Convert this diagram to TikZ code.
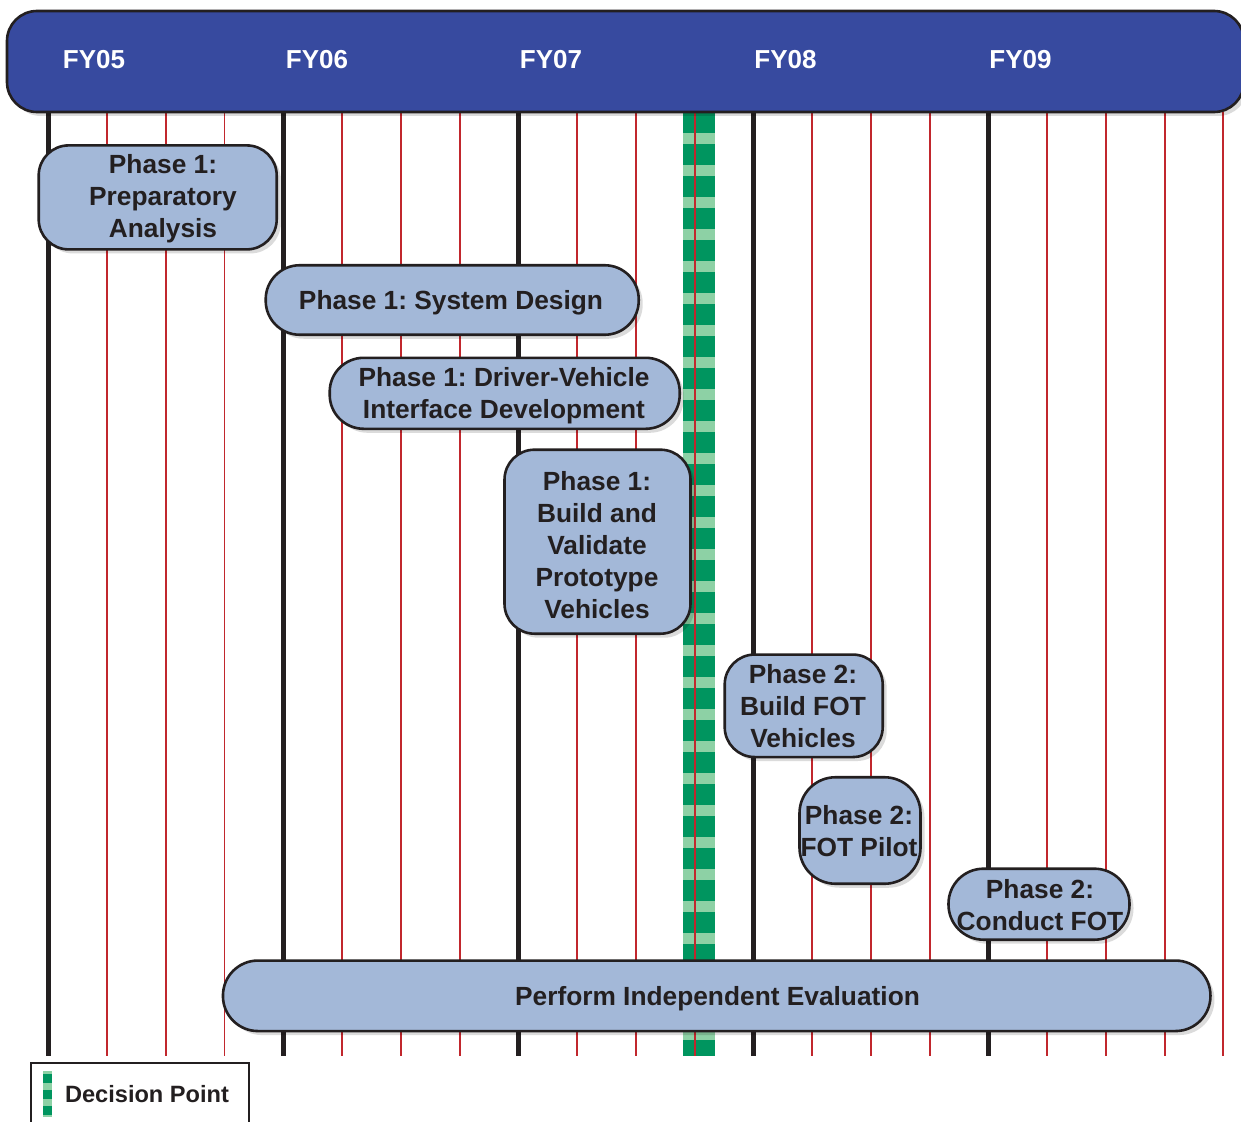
\documentclass[tikz,border=0pt]{standalone}
\usepackage{fontspec}
\setmainfont{Liberation Sans}
\usetikzlibrary{shadows}
\definecolor{barblue}{HTML}{374A9F}
\definecolor{boxfill}{HTML}{A3B8D8}
\definecolor{ink}{HTML}{231F20}
\definecolor{gridred}{HTML}{C1272D}
\definecolor{dpdark}{HTML}{00955F}
\definecolor{dplight}{HTML}{8DD1A5}
\frenchspacing
\begin{document}
\begin{tikzpicture}[x=1pt,y=-1pt,
  softshadow/.style={drop shadow={shadow xshift=4pt, shadow yshift=-4pt, fill=black, opacity=0.14}},
  taskbox/.style={draw=ink, line width=2.6pt, fill=boxfill, rounded corners=#1, inner sep=0pt, softshadow},
  taskbox/.default=30pt,
  tasktext/.style={inner sep=0pt, align=center, text=ink, text depth=0pt,
    font=\bfseries\fontsize{26.3}{32}\selectfont},
  fylabel/.style={inner sep=0pt, text=white, text depth=0pt, font=\bfseries\fontsize{26}{32}\selectfont},
  redline/.style={gridred, line width=1.8pt},
  yearline/.style={ink, line width=5pt},
]
\useasboundingbox (0,0) rectangle (1241,1121);
\fill[white] (0,0) rectangle (1241,1121);

% decision point band
\fill[dpdark] (683,112) rectangle (715,1056);
\foreach \y in {133,165,...,1040}
  \fill[dplight] (683,\y) rectangle (715,\y+11);

% month grid and year boundaries
\foreach \k in {1,2,3,5,6,7,9,10,11,13,14,15,17,18,19}
  \draw[redline] ({48.3+58.76*\k},112) -- ({48.3+58.76*\k},1056);
\draw[redline] (1222.8,112) -- (1222.8,1056);
\foreach \k in {0,4,8,12,16}
  \draw[yearline] ({48.3+58.76*\k},112) -- ({48.3+58.76*\k},1056);

% fiscal year header
\path[draw=ink, line width=2.6pt, fill=barblue, rounded corners=30pt, softshadow]
  (7,11) rectangle (1244,112);
\node[fylabel] (fy05) at (94,59) {FY05};
\node[fylabel] (fy06) at (317,59) {FY06};
\node[fylabel] (fy07) at (551,59) {FY07};
\node[fylabel] (fy08) at (785.5,59) {FY08};
\node[fylabel] (fy09) at (1020.5,59) {FY09};

% tasks
\node[taskbox, minimum width=238pt, minimum height=104pt] (prep) at (157.7,197.4) {};
\node[tasktext] (prep-t) at (163,196) {Phase 1:\\Preparatory\\Analysis};

\node[taskbox=34pt, minimum width=373pt, minimum height=69.5pt] (sys) at (452.2,300) {};
\node[tasktext] (sys-t) at (451,300) {Phase 1: System Design};

\node[taskbox=34pt, minimum width=350pt, minimum height=71pt] (dvi) at (504.7,393.3) {};
\node[tasktext] (dvi-t) at (504,393) {Phase 1: Driver-Vehicle\\Interface Development};

\node[taskbox, minimum width=186pt, minimum height=184pt] (proto) at (597.5,541.7) {};
\node[tasktext] (proto-t) at (597,545) {Phase 1:\\Build and\\Validate\\Prototype\\Vehicles};

\node[taskbox, minimum width=158pt, minimum height=102.5pt] (bfot) at (803.7,705.8) {};
\node[tasktext] (bfot-t) at (803,706) {Phase 2:\\Build FOT\\Vehicles};

\node[taskbox=36pt, minimum width=121pt, minimum height=106.5pt] (pilot) at (860,830.5) {};
\node[tasktext] (pilot-t) at (859,831) {Phase 2:\\FOT Pilot};

\node[taskbox=35pt, minimum width=181pt, minimum height=71pt] (cfot) at (1039,904.2) {};
\node[tasktext] (cfot-t) at (1040,905) {Phase 2:\\Conduct FOT};

\node[taskbox=35pt, minimum width=987.5pt, minimum height=70.5pt] (eval) at (716.7,995.8) {};
\node[tasktext] (eval-t) at (717.5,996) {Perform Independent Evaluation};

% legend
\draw[ink, line width=2.5pt] (31,1130) -- (31,1063) -- (249,1063) -- (249,1130);
\fill[dplight] (43.3,1071) rectangle (52,1117);
\foreach \y in {1074,1090,1106}
  \fill[dpdark] (43.3,\y) rectangle (52,\y+8.5);
\node[tasktext, font=\bfseries\fontsize{23.6}{28}\selectfont] (legend-t) at (147,1094.3) {Decision Point};
\end{tikzpicture}
\end{document}
